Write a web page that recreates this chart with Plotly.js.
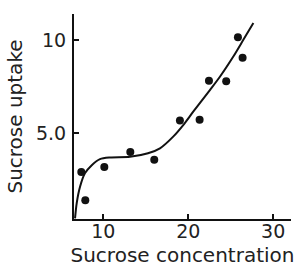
<!DOCTYPE html>
<html>
<head>
<meta charset="utf-8">
<script src="https://cdn.plot.ly/plotly-3.0.1.min.js"></script>
<style>html,body{margin:0;padding:0;background:#fff;}#chart{width:304px;height:267px;}</style>
</head>
<body>
<div id="chart"></div>
<script>
// Measured sample points
const sampleX = [7.41, 7.88, 10.12, 13.18, 16.0, 19.02, 21.34, 22.44, 24.47, 25.85, 26.4];
const sampleY = [2.89, 1.36, 3.16, 3.97, 3.55, 5.68, 5.71, 7.82, 7.79, 10.18, 9.06];
// Fitted curve
const curveX = [6.67, 6.87, 7.26, 7.85, 8.64, 9.61, 10.79, 13.14, 15.26, 16.67, 18.2, 19.41, 20.59, 22.55, 23.73, 25.29, 26.47, 27.67];
const curveY = [0.38, 1.21, 2.09, 2.83, 3.26, 3.59, 3.68, 3.71, 3.90, 4.17, 4.79, 5.43, 6.15, 7.32, 8.04, 9.12, 10.02, 10.94];
const xTicks = [10, 20, 30];
const xTickText = ['10', '20', '30'];
const yTicks = [5, 10];
const yTickText = ['5.0', '10'];

const font = {family: 'DejaVu Sans', size: 19, color: '#222'};

Plotly.newPlot('chart', [
  {x: curveX, y: curveY, type: 'scatter', mode: 'lines',
   line: {color: '#111', width: 2, shape: 'spline', smoothing: 0.8}, hoverinfo: 'skip'},
  {x: sampleX, y: sampleY, type: 'scatter', mode: 'markers',
   marker: {color: '#111', size: 8}}
], {
  width: 304, height: 267,
  margin: {l: 74, r: 13, t: 14, b: 48, pad: 0},
  paper_bgcolor: '#fff', plot_bgcolor: '#fff',
  showlegend: false,
  font: font,
  xaxis: {
    range: [6.55, 32.1], tickvals: xTicks, ticktext: xTickText,
    ticks: 'inside', ticklen: 5, tickwidth: 2, tickcolor: '#111',
    showline: true, linewidth: 2, linecolor: '#111',
    showgrid: false, zeroline: false, fixedrange: true,
    tickfont: font, ticklabelstandoff: -6,
    title: {text: 'Sucrose concentration', font: {family: 'DejaVu Sans', size: 20, color: '#222'}, standoff: 10}
  },
  yaxis: {
    range: [0.35, 11.43], tickvals: yTicks, ticktext: yTickText,
    ticks: 'inside', ticklen: 5, tickwidth: 2, tickcolor: '#111',
    showline: true, linewidth: 2, linecolor: '#111',
    showgrid: false, zeroline: false, fixedrange: true,
    tickfont: font, ticklabelstandoff: 2,
    title: {text: 'Sucrose uptake', font: {family: 'DejaVu Sans', size: 20, color: '#222'}, standoff: 8}
  }
}, {staticPlot: true});
</script>
</body>
</html>
